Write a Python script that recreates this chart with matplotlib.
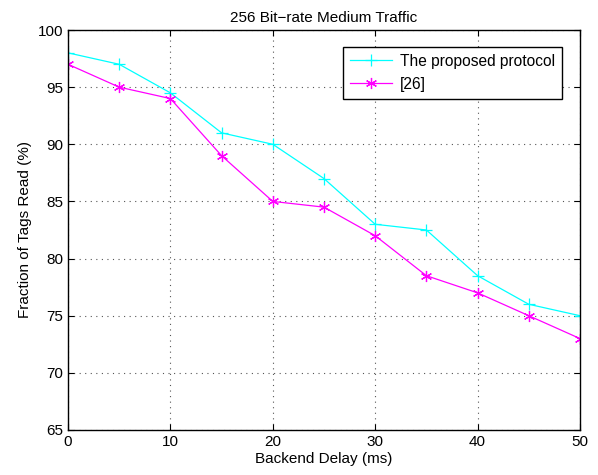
import matplotlib
matplotlib.use('Agg')
import matplotlib.pyplot as plt

# data
delay = [0, 5, 10, 15, 20, 25, 30, 35, 40, 45, 50]
proposed = [98, 97, 94.5, 91, 90, 87, 83, 82.5, 78.5, 76, 75]
ref26 = [97, 95, 94, 89, 85, 84.5, 82, 78.5, 77, 75, 73]

plt.rcParams['font.family'] = ['Liberation Sans', 'DejaVu Sans']

fig = plt.figure(figsize=(5.98, 4.75), dpi=100)
ax = fig.add_axes([68 / 598, 45 / 475, 512 / 598, 400 / 475])

ax.plot(delay, proposed, color='#00ffff', lw=0.9, marker='+', ms=8, mew=0.9,
        label='The proposed protocol')
ax.plot(delay, ref26, color='#ff00ff', lw=0.9, marker=(6, 2, 0), ms=8, mew=0.9,
        label='[26]')

ax.set_xlim(0, 50)
ax.set_ylim(65, 100)
ax.set_xticks(range(0, 51, 10))
ax.set_yticks(range(65, 101, 5))
ax.grid(True, linestyle=(0, (1, 4)), color='#555555', lw=0.8)
ax.tick_params(direction='in', labelsize=11, length=4, top=True, right=True)
for s in ax.spines.values():
    s.set_linewidth(1.0)

ax.set_title('256 Bit\u2212rate Medium Traffic', fontsize=11)
ax.set_xlabel('Backend Delay (ms)', fontsize=11, labelpad=2)
ax.set_ylabel('Fraction of Tags Read (%)', fontsize=11)

leg = ax.legend(loc='upper right', bbox_to_anchor=(0.965, 0.958), fontsize=11.2,
                fancybox=False, framealpha=1, edgecolor='black', borderaxespad=0,
                handlelength=2.7, handletextpad=0.5, borderpad=0.45,
                labelspacing=0.5)
leg.get_frame().set_linewidth(1.0)

fig.savefig('out.png', dpi=100)
